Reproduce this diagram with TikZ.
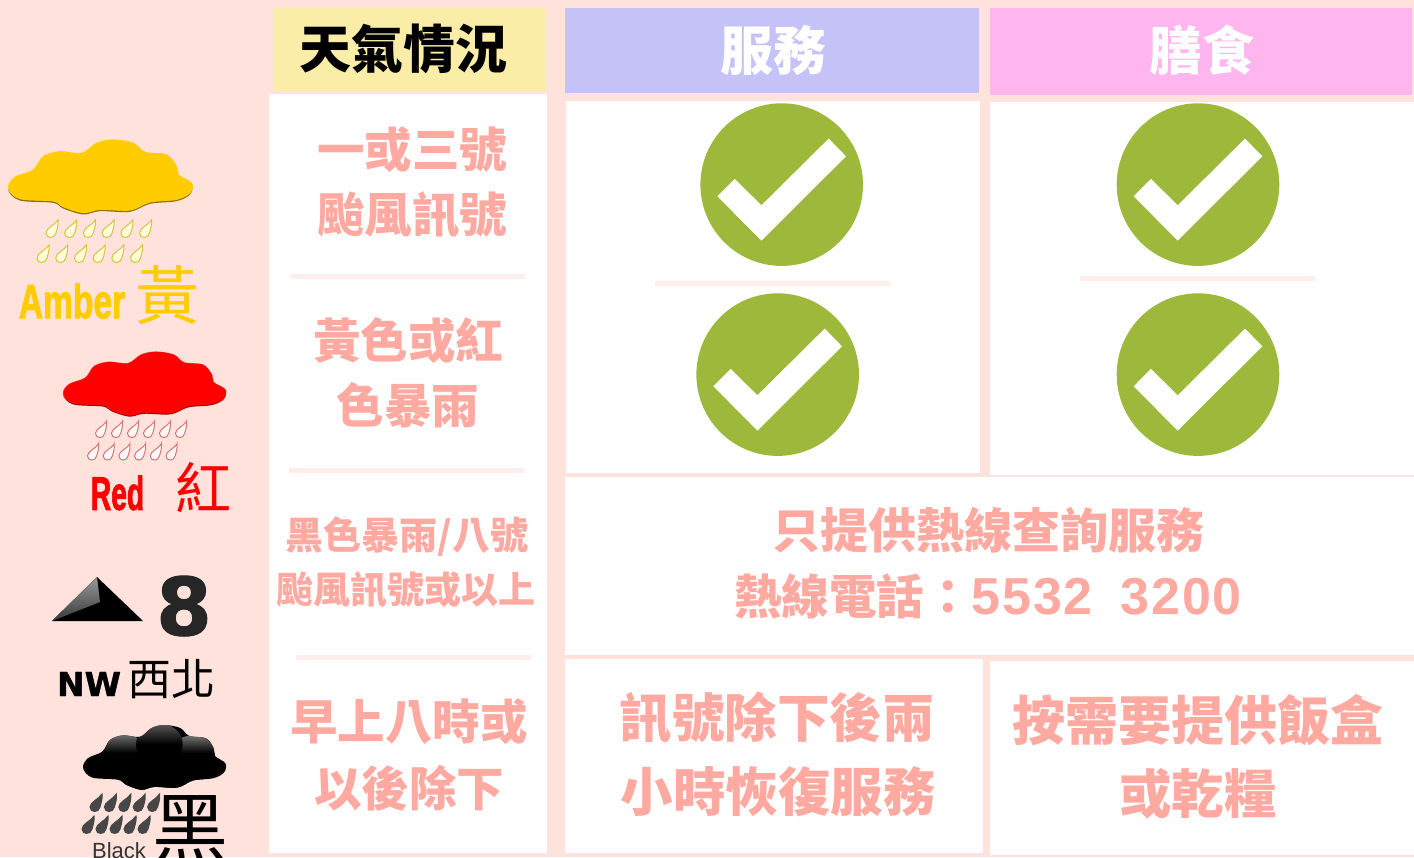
\documentclass[tikz,border=0pt]{standalone}
\usepackage{fontspec}
\setmainfont{Liberation Sans}
\newfontfamily\cjk{Noto Sans CJK TC}
\newfontfamily\lat{Liberation Sans}
\newfontfamily\latwide[LetterSpace=3.5]{Liberation Sans}
\newfontfamily\latheavy[UprightFont={* Bold},FakeBold=2.2]{Liberation Sans}
\newfontfamily\djheavy[UprightFont={* Bold},FakeBold=1.2]{DejaVu Sans}
\definecolor{bgp}{HTML}{FFE2DC}
\definecolor{sepc}{HTML}{FFEEEB}
\definecolor{txtp}{HTML}{FFA9A1}
\definecolor{hy}{HTML}{F9EDA8}
\definecolor{hb}{HTML}{C5C2F8}
\definecolor{hm}{HTML}{FFB5EE}
\definecolor{okg}{HTML}{9DB83B}
\definecolor{amb}{HTML}{FFCC00}
\tikzset{
 cell/.style={fill=white,draw=none},
 sepline/.style={draw=sepc,line width=5pt},
 tx/.style={inner sep=0pt,text=txtp,font=\cjk\bfseries,align=center},
 okdisc/.style={circle,fill=okg,minimum size=162.6pt,inner sep=0pt,draw=none}
}
\newcommand{\fs}[1]{\fontsize{#1}{#1}\selectfont}
% cloud outline traced on the amber cloud, in a 553x220 box
\newcommand{\cloudpath}{plot[smooth cycle,tension=0.55] coordinates {(0,145)(20,112)(75,90)(105,50)(155,35)(220,40)(265,10)(315,0)(375,10)(410,37)(475,45)(505,80)(510,105)(550,130)(545,160)(505,180)(425,188)(365,212)(275,210)(225,220)(165,202)(135,185)(35,178)}}
\newcommand{\wxcloud}[7]{% x y xscale yscale fill edge light
 \begin{scope}[shift={(#1,#2)},x=#3pt,y=-#4pt]
  \begin{scope}[shift={(0,3)}]\fill[#6] \cloudpath;\end{scope}
  \begin{scope}[shift={(-1,-2)}]\fill[#7] \cloudpath;\end{scope}
  \begin{scope}[shift={(1,-1)}]\fill[#5] \cloudpath;\end{scope}
 \end{scope}}
\newcommand{\wxdrop}[5]{% x y fill edge scale (x,y = bottom of bulb)
 \filldraw[fill=#3,draw=#4,line width=1pt,shift={(#1,#2)},scale=#5] (6,-18) .. controls (6.5,-12) and (5,-9) .. (4,-5) .. controls (3,1) and (-6,1) .. (-6,-5) .. controls (-6,-10) and (3,-13) .. cycle;}
\begin{document}
\begin{tikzpicture}[x=1pt,y=-1pt]
\useasboundingbox (0,0) rectangle (1414,857);
\fill[bgp] (0,0) rectangle (1414,857);
% headers
\fill[hy] (273,8) rectangle (546,91);
\fill[hb] (565,8) rectangle (979,93);
\fill[hm] (990,8) rectangle (1412,95);
% white cells
\fill[cell] (269,94) rectangle (547,853);
\fill[cell] (566,101) rectangle (980,473);
\fill[cell] (990,102) rectangle (1414,475);
\fill[cell] (565,477) rectangle (1414,655);
\fill[cell] (565,659) rectangle (983,853);
\fill[cell] (990,661) rectangle (1414,855);
% separators
\draw[sepline] (290,276) -- (525,276);
\draw[sepline] (289,470) -- (524,470);
\draw[sepline] (296,657) -- (531,657);
\draw[sepline] (655,283) -- (890,283);
\draw[sepline] (1080,278) -- (1315,278);
% header text
\node[inner sep=0pt,font=\cjk\bfseries\fs{52},text=black] (h1) at (403,49) {天氣情況};
\node[inner sep=0pt,font=\cjk\bfseries\fs{53},text=white] (h2) at (773,50) {服務};
\node[inner sep=0pt,font=\cjk\bfseries\fs{52.5},text=white] (h3) at (1202,50) {膳食};
% left column text
\node[tx,font=\cjk\bfseries\fs{47.5}] (t1a) at (412,150) {一或三號};
\node[tx,font=\cjk\bfseries\fs{47.5}] (t1b) at (412,215) {颱風訊號};
\node[tx,font=\cjk\bfseries\fs{47.5}] (t2a) at (408,340) {黃色或紅};
\node[tx,font=\cjk\bfseries\fs{47.5}] (t2b) at (408,405) {色暴雨};
\node[tx,font=\cjk\bfseries\fs{38}] (t3a) at (407,537) {黑色暴雨/八號};
\node[tx,font=\cjk\bfseries\fs{37}] (t3b) at (406,590) {颱風訊號或以上};
\node[tx,font=\cjk\bfseries\fs{47.5}] (t4a) at (409,722) {早上八時或};
\node[tx,font=\cjk\bfseries\fs{47.5}] (t4b) at (409,788) {以後除下};
% hotline
\node[tx,font=\cjk\bfseries\fs{48}] (hl1) at (988,530) {只提供熱線查詢服務};
\node[tx,font=\cjk\bfseries\fs{47.5}] (hl2) at (988,596) {熱線電話：{\latwide\fs{52}5532\hspace{28pt}3200}};
% bottom cells
\node[tx,font=\cjk\bfseries\fs{52.5}] (b1a) at (777,718) {訊號除下後兩};
\node[tx,font=\cjk\bfseries\fs{52.5}] (b1b) at (778,792) {小時恢復服務};
\node[tx,font=\cjk\bfseries\fs{53}] (b2a) at (1198,720) {按需要提供飯盒};
\node[tx,font=\cjk\bfseries\fs{52.5}] (b2b) at (1198,794) {或乾糧};
% ticks
\foreach \n/\cx/\cy in {a/781.7/184.6,b/777.7/374.6,c/1198/184.6,d/1198/374.6}{
 \node[okdisc] (ok\n) at (\cx,\cy) {};
 \fill[white] (\cx-64.3,\cy+11.7) -- (\cx-47,\cy-5.7) -- (\cx-20.3,\cy+20.7) -- (\cx+47,\cy-46) -- (\cx+64.3,\cy-28.3) -- (\cx-20.3,\cy+56) -- cycle;
}
% amber warning
\wxcloud{8}{140}{0.334}{0.334}{amb}{amb!55!black}{amb!65!white}
\foreach \x in {0,1,2,3,4,5}{
 \wxdrop{\x*18.7+52}{238}{white!85!yellow}{amb!60!olive!75!white}{1}
 \wxdrop{\x*18.7+43}{263}{white!85!yellow}{amb!60!olive!75!white}{1}
}
\node[inner sep=0pt,text=amb,font=\latheavy\fs{48}] (amb1) at (72,301) {\scalebox{0.7}[1]{Amber}};
\node[inner sep=0pt,text=amb,font=\cjk\fs{64}] (amb2) at (167,295) {黃};
% red warning
\wxcloud{63}{352}{0.295}{0.29}{red}{red!65!black}{red!55!white}
\foreach \x in {0,1,2,3,4,5}{
 \wxdrop{\x*16+101}{438}{white!90!pink}{red!55!gray!70!white}{0.92}
 \wxdrop{\x*15.7+93}{460.5}{white!90!pink}{red!55!gray!70!white}{0.92}
}
\node[inner sep=0pt,text=red,font=\latheavy\fs{47}] (red1) at (117.5,493) {\scalebox{0.6}[1]{Red}};
\node[inner sep=0pt,text=red,font=\cjk\fs{56}] (red2) at (203,488) {紅};
% gale 8
\fill[black] (52,621) -- (97,577) -- (143,621) -- cycle;
\shade[top color=black!40,bottom color=black!78] (52,621) -- (97,577) -- (100,602) -- cycle;
\node[inner sep=0pt,text=black!85,font=\djheavy\fs{80}] (g8) at (184,606) {8};
\node[inner sep=0pt,text=black,font=\djheavy\fs{33}] (gnw) at (89,684) {NW};
\node[inner sep=0pt,text=black,font=\cjk\fs{44}] (gdir) at (171,679) {西北};
% black warning
\begin{scope}[shift={(83,725)},x=0.259pt,y=-0.295pt]
 \fill[black] \cloudpath;
 \begin{scope}
  \clip \cloudpath;
  \shade[top color=black!55,bottom color=black,middle color=black] (155,95) ellipse (85 and 65);
  \shade[top color=black!55,bottom color=black,middle color=black] (425,95) ellipse (85 and 60);
  \shade[top color=black!65,bottom color=black,middle color=black] (295,65) ellipse (90 and 70);
  \fill[black] (275,165) ellipse (200 and 60);
 \end{scope}
\end{scope}
\foreach \x in {0,1,2,3,4}{
 \wxdrop{\x*14.4+96}{812}{black!72}{black!72}{1}
 \wxdrop{\x*14+88}{834}{black!72}{black!72}{1}
}
\node[inner sep=0pt,text=black,font=\cjk\fs{76}] (blk2) at (190,829) {黑};
\node[inner sep=0pt,text=black!80,font=\lat\fs{22}] (blk1) at (119,851) {Black};
\end{tikzpicture}
\end{document}
